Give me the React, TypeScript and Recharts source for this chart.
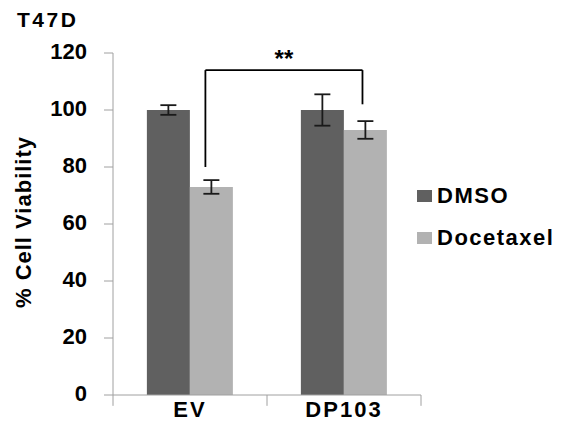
import {
  BarChart,
  Bar,
  XAxis,
  YAxis,
  ErrorBar,
  Legend,
  ReferenceLine,
  Label,
} from 'recharts';

const categories = ['EV', 'DP103'];
const dmso = [100, 100];
const dmsoErr = [1.7, 5.5];
const docetaxel = [73, 93];
const docetaxelErr = [2.4, 3.1];
const yTicks = [0, 20, 40, 60, 80, 100, 120];

// significance bracket, x in category units (0..2), y in % viability
const bracketX = [0.6, 1.62];
const bracketTop = 114;
const bracketLegs = [80, 102];
const bracketText = '**';

// category boundary tick marks below the x axis
const categoryEdges = [0, 1, 2];
const edgeTickDepth = -3.8;

const series = [
  { key: 'dmso', err: 'dmsoErr', name: 'DMSO', color: '#606060' },
  { key: 'docetaxel', err: 'docetaxelErr', name: 'Docetaxel', color: '#b2b2b2' },
];

const data = categories.map((name, i) => ({
  name,
  pos: i + 0.5,
  dmso: dmso[i],
  dmsoErr: dmsoErr[i],
  docetaxel: docetaxel[i],
  docetaxelErr: docetaxelErr[i],
}));

const FONT = '"Liberation Sans", Arial, sans-serif';
const AXIS = '#a0a0a0';

function YTick(props: any) {
  const { x, y, payload } = props;
  return (
    <text
      x={x - 15}
      y={y - 2}
      dy="0.355em"
      textAnchor="end"
      fill="#000"
      fontSize={22}
      fontWeight="bold"
      fontFamily={FONT}
    >
      {payload.value}
    </text>
  );
}

function LegendBox() {
  return (
    <div style={{ fontFamily: FONT, fontWeight: 'bold', fontSize: 22, color: '#000', letterSpacing: 1.5 }}>
      {series.map((s) => (
        <div key={s.key} style={{ display: 'flex', alignItems: 'center', height: 42 }}>
          <span style={{ width: 15, height: 12, background: s.color, marginRight: 5, display: 'inline-block' }} />
          <span>{s.name}</span>
        </div>
      ))}
    </div>
  );
}

export default function App() {
  return (
    <div style={{ position: 'absolute', left: 0, top: 0, width: 561, height: 425, background: '#fff' }}>
      <div
        style={{
          position: 'absolute',
          left: 17,
          top: 9,
          fontFamily: FONT,
          fontWeight: 'bold',
          fontSize: 21,
          lineHeight: '21px',
          letterSpacing: 2.5,
        }}
      >
        T47D
      </div>
      <BarChart
        width={561}
        height={425}
        data={data}
        margin={{ top: 53, right: 0, bottom: 0, left: 0 }}
        barCategoryGap="22%"
        barGap={0}
      >
        <XAxis
          xAxisId="pos"
          type="number"
          dataKey="pos"
          domain={[0, 2]}
          allowDataOverflow
          hide
        />
        <XAxis
          dataKey="name"
          height={30}
          tickLine={false}
          tickSize={0}
          tickMargin={6}
          axisLine={{ stroke: AXIS }}
          tick={{ fill: '#000', fontSize: 22, fontWeight: 'bold', fontFamily: FONT, letterSpacing: 2 }}
        />
        <YAxis
          width={113}
          domain={[0, 120]}
          ticks={yTicks}
          tickSize={9}
          axisLine={{ stroke: AXIS }}
          tickLine={{ stroke: AXIS }}
          tick={<YTick />}
        >
          <Label
            content={(props: any) => {
              const vb = props.viewBox || { x: 0, y: 53, height: 342 };
              const cx = vb.x + 31;
              const cy = vb.y + vb.height / 2 - 2;
              return (
                <text
                  x={cx}
                  y={cy}
                  transform={`rotate(-90, ${cx}, ${cy})`}
                  textAnchor="middle"
                  fontFamily={FONT}
                  fontWeight="bold"
                  fontSize={22}
                  letterSpacing={1}
                  fill="#000"
                >
                  % Cell Viability
                </text>
              );
            }}
          />
        </YAxis>
        <Legend
          layout="vertical"
          align="right"
          verticalAlign="middle"
          width={140}
          content={() => <LegendBox />}
          wrapperStyle={{ left: 417, top: 175 }}
        />
        {series.map((s) => (
          <Bar key={s.key} dataKey={s.key} name={s.name} fill={s.color} isAnimationActive={false}>
            <ErrorBar dataKey={s.err} width={8} stroke="#1a1a1a" strokeWidth={1.8} />
          </Bar>
        ))}
        {categoryEdges.map((e) => (
          <ReferenceLine
            key={`edge-${e}`}
            xAxisId="pos"
            ifOverflow="visible"
            segment={[
              { x: e, y: 0 },
              { x: e, y: edgeTickDepth },
            ]}
            stroke={AXIS}
          />
        ))}
        <ReferenceLine
          xAxisId="pos"
          ifOverflow="visible"
          segment={[
            { x: bracketX[0], y: bracketLegs[0] },
            { x: bracketX[0], y: bracketTop },
          ]}
          stroke="#000"
          strokeWidth={1.8}
        />
        <ReferenceLine
          xAxisId="pos"
          ifOverflow="visible"
          segment={[
            { x: bracketX[0], y: bracketTop },
            { x: bracketX[1], y: bracketTop },
          ]}
          stroke="#000"
          strokeWidth={1.8}
        >
          <Label
            value={bracketText}
            position="top"
            offset={3}
            fill="#000"
            fontSize={24}
            fontWeight="bold"
            fontFamily={FONT}
          />
        </ReferenceLine>
        <ReferenceLine
          xAxisId="pos"
          ifOverflow="visible"
          segment={[
            { x: bracketX[1], y: bracketTop },
            { x: bracketX[1], y: bracketLegs[1] },
          ]}
          stroke="#000"
          strokeWidth={1.8}
        />
      </BarChart>
    </div>
  );
}
